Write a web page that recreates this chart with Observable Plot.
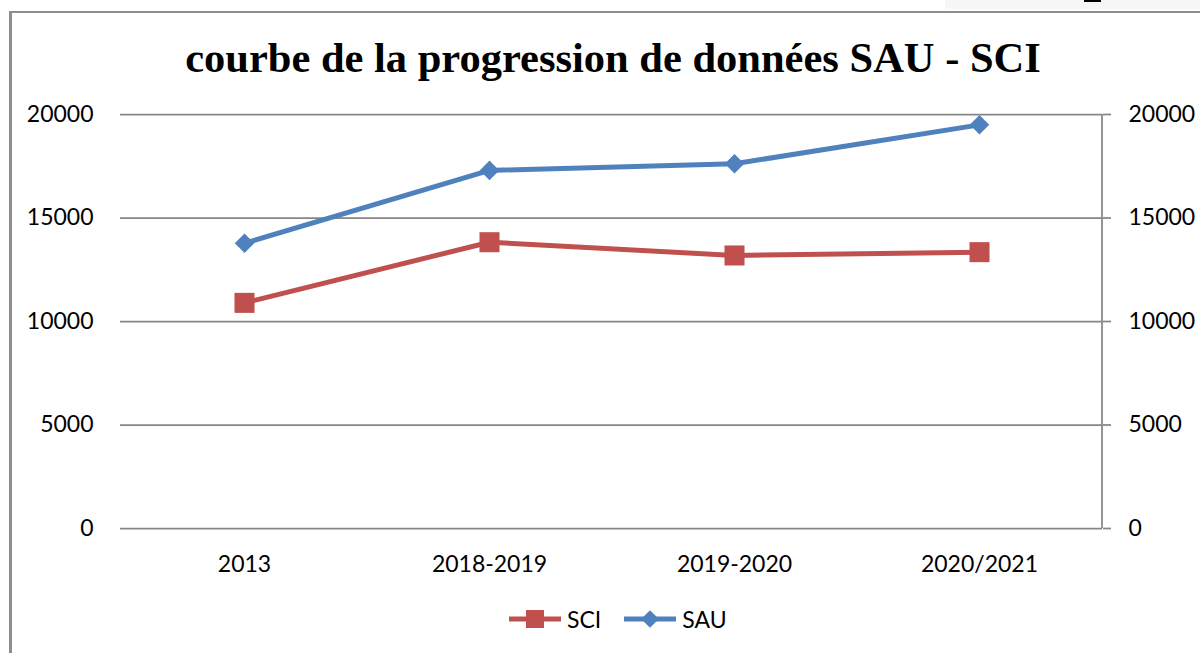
<!DOCTYPE html>
<html><head><meta charset="utf-8">
<script src="https://cdn.jsdelivr.net/npm/d3@7"></script>
<script src="https://cdn.jsdelivr.net/npm/@observablehq/plot@0.6"></script>
<style>
body{margin:0;background:#fff;}
#wrap{position:relative;width:1200px;height:653px;overflow:hidden;font-family:Lato,"Open Sans",sans-serif;background:#fff;}
#strip{position:absolute;left:945px;top:0;width:255px;height:9px;background:#f6f6f6;}
#mark{position:absolute;left:1084px;top:0;width:17px;height:2px;background:#000;}
#frameTop{position:absolute;left:9px;top:10.5px;width:1191px;height:2.5px;background:#8e8e8e;}
#frameLeft{position:absolute;left:9px;top:10.5px;width:2.5px;height:643px;background:#8e8e8e;}
#title{position:absolute;left:13px;top:37px;width:1200px;text-align:center;font-family:"Liberation Serif","Times New Roman",serif;font-weight:bold;font-size:42.5px;line-height:42px;color:#000;white-space:nowrap;}
#chart{position:absolute;left:0;top:0;}
#legend{position:absolute;left:509px;top:606px;height:26px;display:flex;align-items:center;font-size:23px;color:#000;}
#legend svg{display:block;}
</style></head><body>
<div id="wrap">
 <div id="strip"></div><div id="mark"></div>
 <div id="frameTop"></div><div id="frameLeft"></div>
 <div id="title">courbe de la progression de données SAU - SCI</div>
 <div id="chart"></div>
 <div id="legend"></div>
</div>
<script>
const categories = ["2013", "2018-2019", "2019-2020", "2020/2021"];
const sciValues = [10900, 13830, 13190, 13350];
const sauValues = [13780, 17300, 17620, 19500];
const yTicks = [0, 5000, 10000, 15000, 20000];
const seriesNames = ["SCI", "SAU"];
const seriesColors = ["#C0504D", "#4F81BD"];
const seriesSymbols = ["square", "diamond2"];

const rows = [];
categories.forEach((c, i) => {
  rows.push({cat: c, series: "SCI", value: sciValues[i]});
  rows.push({cat: c, series: "SAU", value: sauValues[i]});
});
const sci = rows.filter(d => d.series === "SCI");
const sau = rows.filter(d => d.series === "SAU");
const grid = "#868686";
const fmt = d => String(d);

const chart = Plot.plot({
  width: 1200,
  height: 653,
  marginLeft: 120,
  marginRight: 98,
  marginTop: 114,
  marginBottom: 125,
  style: {fontFamily: "Lato, 'Open Sans', sans-serif", fontSize: "23px", color: "#000", background: "transparent", overflow: "visible"},
  x: {type: "point", domain: categories, padding: 0.5},
  y: {domain: [0, 20000]},
  marks: [
    Plot.gridY(yTicks, {stroke: grid, strokeOpacity: 1, strokeWidth: 1.75}),
    Plot.axisY(yTicks, {anchor: "left", tickSize: 0, tickPadding: 27, tickFormat: fmt, label: null, fill: "#000"}),
    Plot.axisY(yTicks, {anchor: "right", tickSize: 8, tickPadding: 18, tickFormat: fmt, label: null, stroke: grid, strokeWidth: 1.75, fill: "#000"}),
    Plot.axisX({tickSize: 0, tickPadding: 27, label: null, fill: "#000"}),
    Plot.line(sci, {x: "cat", y: "value", stroke: seriesColors[0], strokeWidth: 5, strokeLinejoin: "round"}),
    Plot.line(sau, {x: "cat", y: "value", stroke: seriesColors[1], strokeWidth: 5, strokeLinejoin: "round"}),
    Plot.dot(sci, {x: "cat", y: "value", symbol: seriesSymbols[0], fill: seriesColors[0], r: 11.3}),
    Plot.dot(sau, {x: "cat", y: "value", symbol: seriesSymbols[1], fill: seriesColors[1], r: 8.8})
  ]
});
document.getElementById("chart").appendChild(chart);

// right value-axis line, from the plot's own scales
const xr = chart.scale("x").range, yr = chart.scale("y").range;
d3.select(chart).append("line")
  .attr("x1", xr[1]).attr("x2", xr[1])
  .attr("y1", yr[0]).attr("y2", yr[1])
  .attr("stroke", grid).attr("stroke-width", 1.75);

// legend
const legend = d3.select("#legend");
seriesNames.forEach((name, i) => {
  const s = legend.append("svg").attr("width", 52).attr("height", 26)
    .style("margin-left", i === 0 ? "0px" : "23px");
  s.append("line").attr("x1", 0).attr("x2", 52).attr("y1", 13).attr("y2", 13)
    .attr("stroke", seriesColors[i]).attr("stroke-width", 5);
  const sym = i === 0 ? d3.symbolSquare : d3.symbolDiamond2;
  const size = i === 0 ? 18 * 18 : 2 * 10 * 10;
  s.append("path").attr("d", d3.symbol(sym, size)()).attr("transform", "translate(26,13)")
    .attr("fill", seriesColors[i]);
  legend.append("span").text(name).style("margin-left", "6px");
});
</script>
</body></html>
